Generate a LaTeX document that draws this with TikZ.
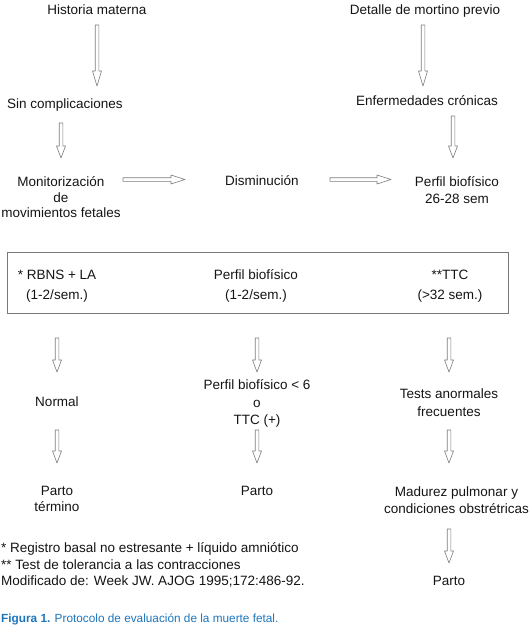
\documentclass[tikz,border=0pt]{standalone}
\usepackage{fontspec}
\setmainfont{Liberation Sans}
\usetikzlibrary{calc}
\definecolor{arrowgray}{RGB}{125,125,125}
\definecolor{boxgray}{RGB}{120,120,120}
\definecolor{capblue}{RGB}{27,117,187}
\definecolor{txtc}{RGB}{20,20,20}
\tikzset{
  blkarrow/.style={draw=arrowgray, line width=0.6pt, line join=round, fill=white},
  lbl/.style={anchor=north, align=center, font=\fontsize{13.5}{#1}\selectfont},
  lbl/.default=17,
}
% hollow block arrow (outline) between two named coordinates
\newcommand\blk[3][13pt]{%
  \coordinate (bkM) at ($(#3)!#1!(#2)$);
  \draw[blkarrow] ($(#2)!1.8pt!90:(#3)$) -- ($(bkM)!1.8pt!90:(#3)$)
     -- ($(bkM)!4.5pt!90:(#3)$) -- (#3) -- ($(bkM)!4.5pt!-90:(#3)$)
     -- ($(bkM)!1.8pt!-90:(#3)$) -- ($(#2)!1.8pt!-90:(#3)$) -- cycle;}
\begin{document}
\begin{tikzpicture}[x=1pt,y=-1pt, every node/.style={inner sep=0pt, text=txtc}]
\useasboundingbox (0,0) rectangle (531,626);
% top part
\node[lbl] (hm) at (97,5) {Historia materna};
\node[lbl] (dm) at (425,5) {Detalle de mortino previo};
\node[lbl] (sc) at (65,98.5) {Sin complicaciones};
\node[lbl] (ec) at (427,95) {Enfermedades crónicas};
\node[lbl=15.5] (mon) at (61,176.5) {Monitorización\\de\\movimientos fetales};
\node[lbl] (dis) at (262,175.5) {Disminución};
\node[lbl=17] (pb) at (457,176.5) {Perfil biofísico\\26-28 sem};
% box
\draw[boxgray, line width=0.8pt] (7,252) rectangle (508,313);
\node[lbl=20] (rb) at (57,269.5) {* RBNS + LA\\(1-2/sem.)};
\node[lbl=20] (pbm) at (256,269.5) {Perfil biofísico\\(1-2/sem.)};
\node[lbl=20] (ttc) at (450,269.5) {**TTC\\(>32 sem.)};
\coordinate (boxL) at (57,338);
\coordinate (boxM) at (257,338);
\coordinate (boxR) at (449,338);
% bottom part
\node[lbl] (nor) at (57,396.5) {Normal};
\node[lbl=17.5] (pb6) at (257,379.5) {Perfil biofísico < 6\\o\\TTC (+)};
\node[lbl=18] (tan) at (449,388.5) {Tests anormales\\frecuentes};
\node[lbl=15.5] (pt) at (57,486.5) {Parto\\término};
\node[lbl] (pa) at (257,486.5) {Parto};
\node[lbl=17] (mad) at (456.5,486.5) {Madurez pulmonar y\\condiciones obstrétricas};
\node[lbl] (pa2) at (449,576.5) {Parto};
% footnotes and caption
\node[anchor=north west, align=left, font=\fontsize{13.5}{16.5}\selectfont] (foot) at (1,542.5)
  {* Registro basal no estresante + líquido amniótico\\** Test de tolerancia a las contracciones\\Modificado de: Week JW. AJOG 1995;172:486-92.};
\node[anchor=north west, font=\fontsize{11.8}{14}\selectfont, text=capblue] (cap) at (1,613.5)
  {\textbf{Figura 1.} Protocolo de evaluación de la muerte fetal.};
% arrow end points
\coordinate (hmS) at (97,25);   \coordinate (scE) at (97,86);
\coordinate (dmS) at (423,25);  \coordinate (ecE) at (423,86);
\coordinate (scS) at (61,123);  \coordinate (monE) at (61,158);
\coordinate (ecS) at (453,116); \coordinate (pbE) at (453,158);
\coordinate (monS) at (123,179.5); \coordinate (disE) at (185,179.5);
\coordinate (disS) at (330,179.5); \coordinate (pbW) at (391,179.5);
\coordinate (norE) at (57,372);
\coordinate (pb6E) at (257,372);
\coordinate (tanE) at (449,372);
\coordinate (norS) at (57,430);  \coordinate (ptE) at (57,463);
\coordinate (pb6S) at (257,430); \coordinate (paE) at (257,463);
\coordinate (tanS) at (449,430); \coordinate (madE) at (449,463);
\coordinate (madS) at (449,529); \coordinate (pa2E) at (449,563);
% arrows
\blk[15pt]{hmS}{scE}
\blk[15pt]{dmS}{ecE}
\blk[12pt]{scS}{monE}
\blk[12pt]{ecS}{pbE}
\blk[14pt]{monS}{disE}
\blk[14pt]{disS}{pbW}
\blk[12pt]{boxL}{norE}
\blk[12pt]{boxM}{pb6E}
\blk[12pt]{boxR}{tanE}
\blk[12pt]{norS}{ptE}
\blk[12pt]{pb6S}{paE}
\blk[12pt]{tanS}{madE}
\blk[12pt]{madS}{pa2E}
\end{tikzpicture}
\end{document}
